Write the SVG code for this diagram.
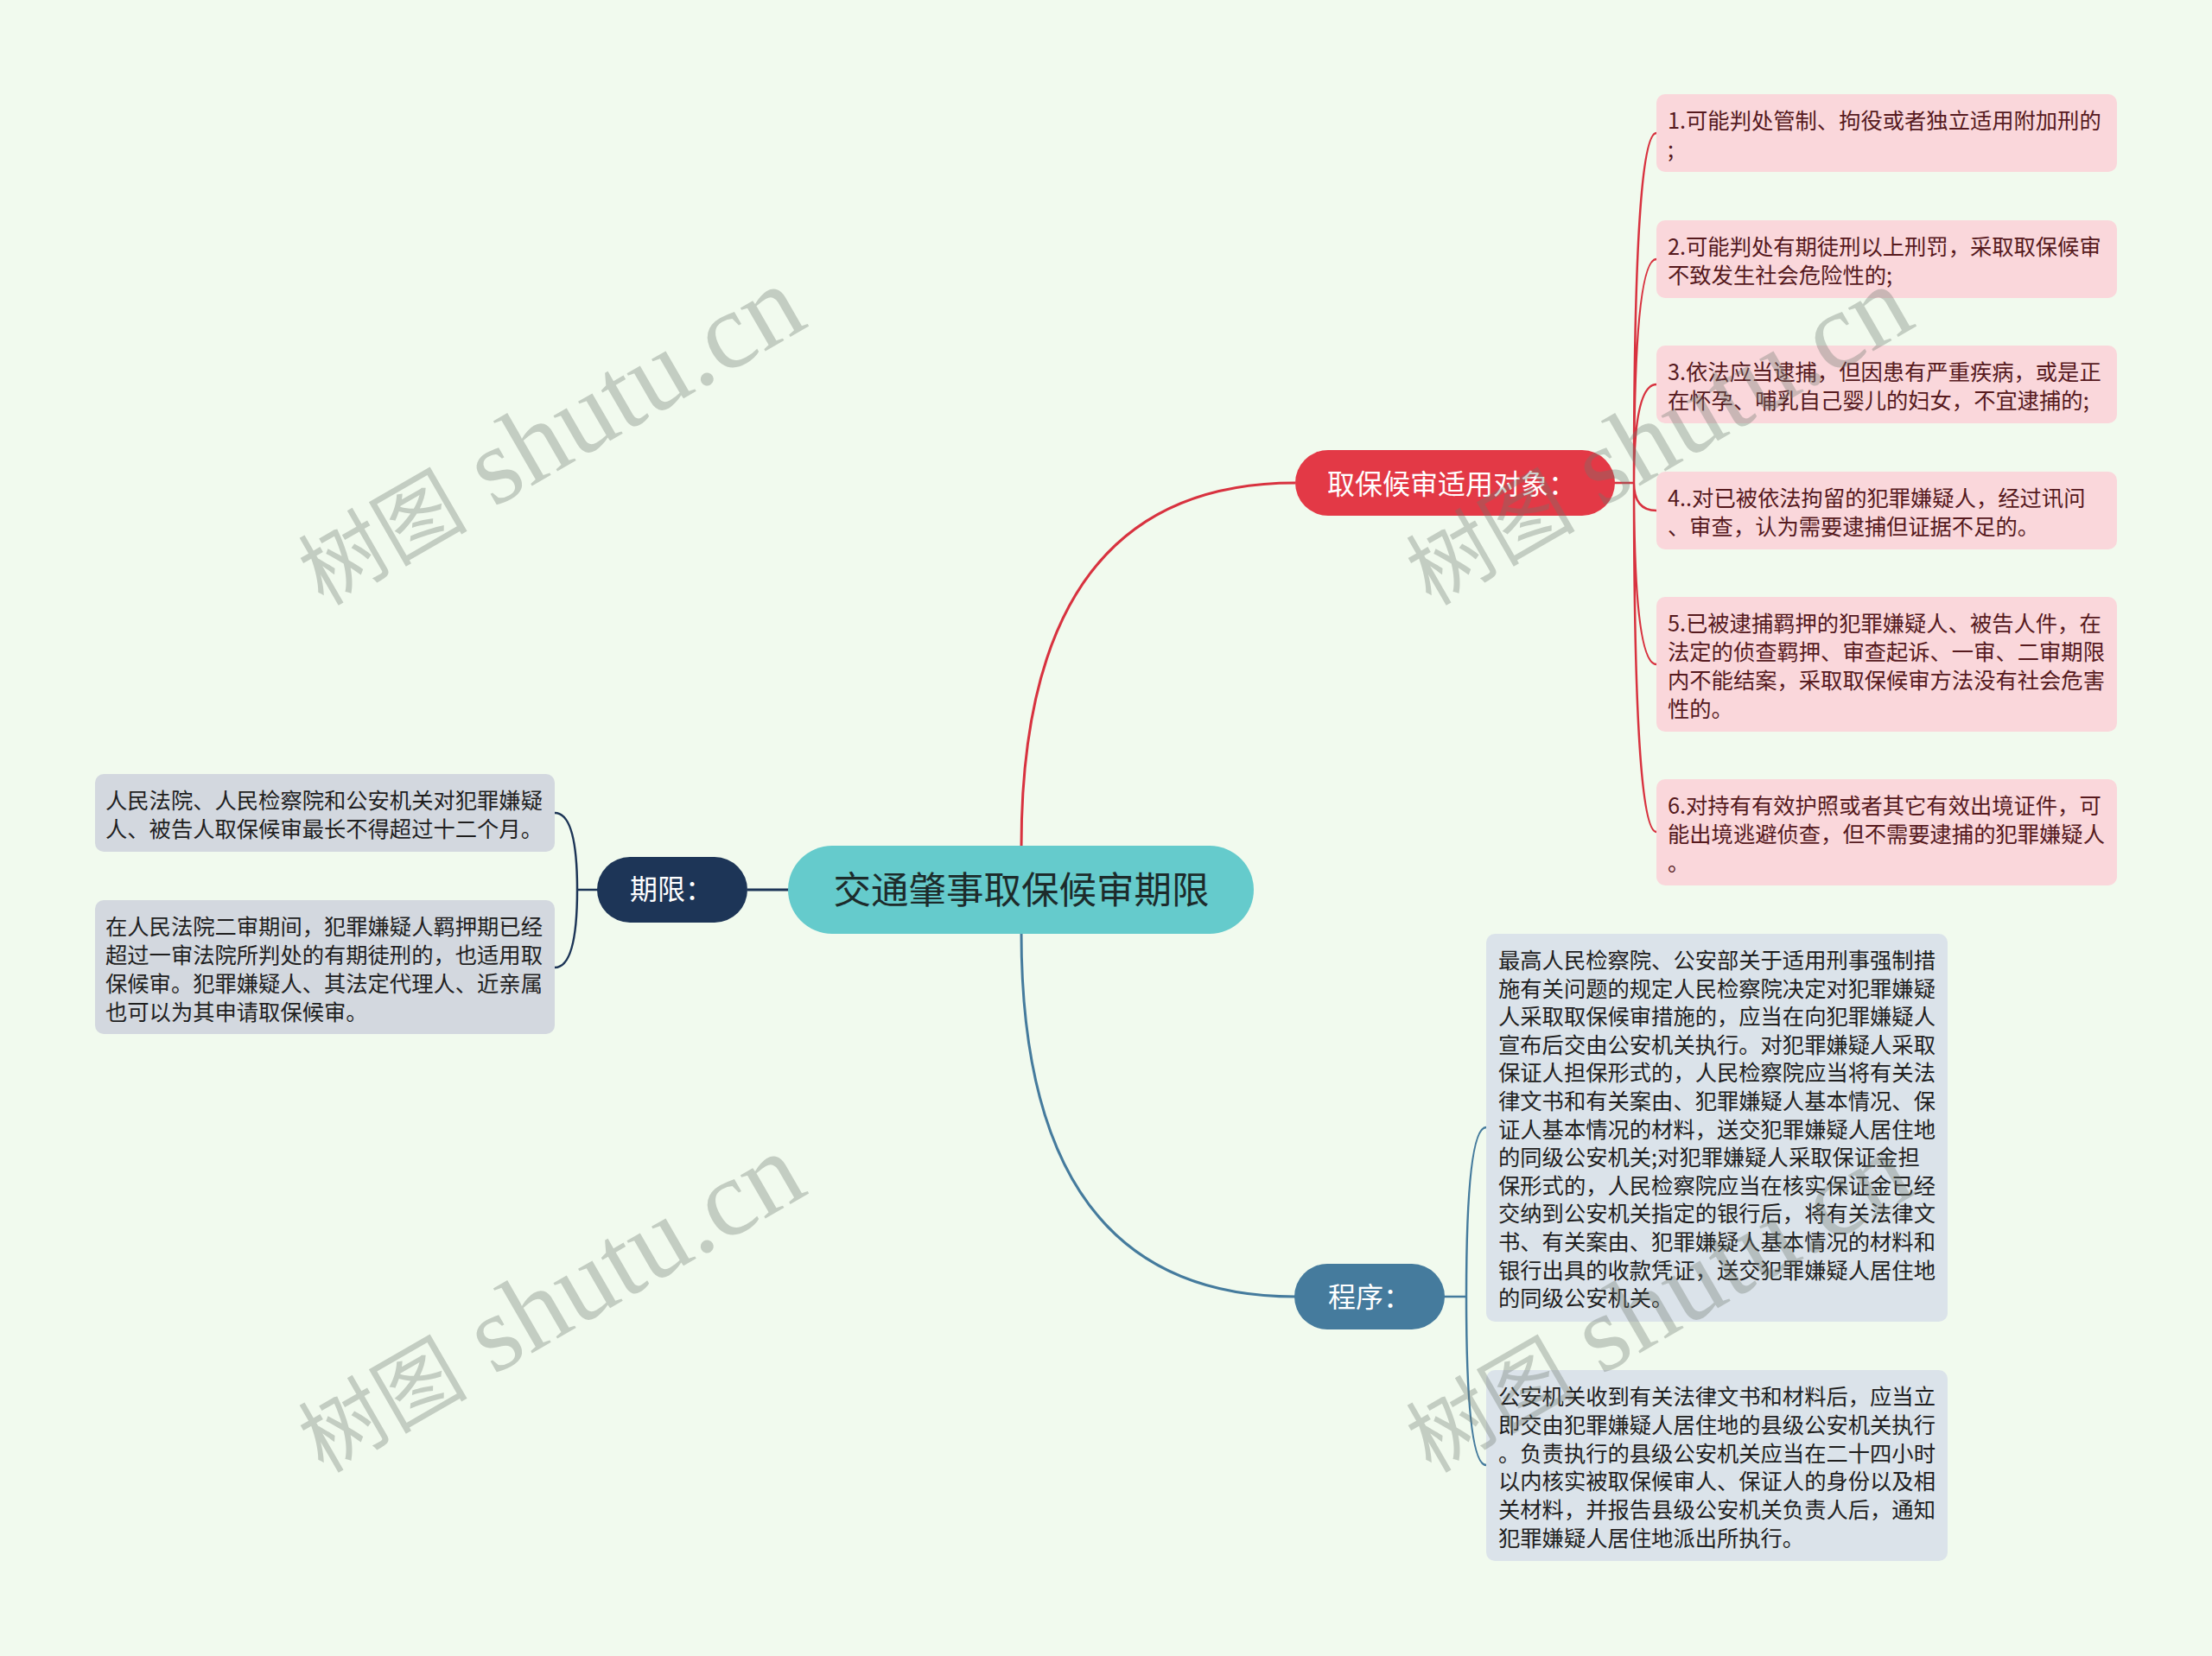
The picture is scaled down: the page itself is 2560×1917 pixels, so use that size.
<svg xmlns="http://www.w3.org/2000/svg" width="2560" height="1917" viewBox="0 0 2560 1917">
<style>
.t{font-family:"Noto Sans CJK SC","Noto Sans",sans-serif;}
.bt{font-size:25.3px;}
.pk{fill:#fad7db;}
.pkt{fill:#561a1e;}
.gy{fill:#d3d8df;}
.gyt{fill:#1f1f1f;}
.bl{fill:#dbe3ea;}
.blt{fill:#1f1f1f;}
.nt{font-size:32px;fill:#ffffff;}
.red{stroke:#d8323f;fill:none;}
.navy{stroke:#1d3557;fill:none;}
.blue{stroke:#457b9d;fill:none;}
.wm{fill:#6e786e;opacity:0.34;}
</style>
<rect x="0" y="0" width="2560" height="1917" fill="#f1faee"/>

<g id="connectors">
  <path class="red" stroke-width="3" d="M1182 980 Q1182 559 1499 559"/>
  <path class="blue" stroke-width="3" d="M1182 1080 Q1182 1501 1499 1501"/>
  <path class="navy" stroke-width="3" d="M865 1030 H913"/>
  <path class="red" stroke-width="2.5" d="M1868 559 H1891 M1891 559 Q1891 154 1917 154 M1891 559 Q1891 300 1917 300 M1891 559 Q1891 445 1917 445 M1891 559 Q1891 591 1917 591 M1891 559 Q1891 769 1917 769 M1891 559 Q1891 963 1917 963"/>
  <path class="navy" stroke-width="2.5" d="M692 1030 H668 M668 1030 Q668 941 642 941 M668 1030 Q668 1120 642 1120"/>
  <path class="blue" stroke-width="2.5" d="M1671 1501 H1697 M1697 1501 Q1697 1305 1720 1305 M1697 1501 Q1697 1696 1720 1696"/>
</g>

<g id="node-root">
  <rect x="912" y="979" width="539" height="102" rx="51" fill="#65cbcc"/>
  <text class="t" x="1182" y="1046" font-size="43.5" fill="#1d2b2b" text-anchor="middle">交通肇事取保候审期限</text>
</g>

<g id="node-objects">
  <rect x="1499" y="521" width="370" height="76" rx="38" fill="#e33946"/>
  <text class="t nt" x="1536" y="572" font-size="32.5">取保候审适用对象：</text>
</g>

<g id="node-limit">
  <rect x="691" y="992" width="174" height="76" rx="38" fill="#1d3557"/>
  <text class="t nt" x="729" y="1041">期限：</text>
</g>

<g id="node-procedure">
  <rect x="1498" y="1463" width="174" height="76" rx="38" fill="#457b9d"/>
  <text class="t nt" x="1537" y="1513">程序：</text>
</g>

<g id="obj-1">
  <rect class="pk" x="1917" y="109" width="533" height="90" rx="10"/>
  <text class="t bt pkt"><tspan x="1930" y="149">1.可能判处管制、拘役或者独立适用附加刑的</tspan><tspan x="1930" y="182">;</tspan></text>
</g>
<g id="obj-2">
  <rect class="pk" x="1917" y="255" width="533" height="90" rx="10"/>
  <text class="t bt pkt"><tspan x="1930" y="295">2.可能判处有期徒刑以上刑罚，采取取保候审</tspan><tspan x="1930" y="328">不致发生社会危险性的;</tspan></text>
</g>
<g id="obj-3">
  <rect class="pk" x="1917" y="400" width="533" height="90" rx="10"/>
  <text class="t bt pkt"><tspan x="1930" y="440">3.依法应当逮捕，但因患有严重疾病，或是正</tspan><tspan x="1930" y="473">在怀孕、哺乳自己婴儿的妇女，不宜逮捕的;</tspan></text>
</g>
<g id="obj-4">
  <rect class="pk" x="1917" y="546" width="533" height="90" rx="10"/>
  <text class="t bt pkt"><tspan x="1930" y="586">4..对已被依法拘留的犯罪嫌疑人，经过讯问</tspan><tspan x="1930" y="619">、审查，认为需要逮捕但证据不足的。</tspan></text>
</g>
<g id="obj-5">
  <rect class="pk" x="1917" y="691" width="533" height="156" rx="10"/>
  <text class="t bt pkt"><tspan x="1930" y="731">5.已被逮捕羁押的犯罪嫌疑人、被告人件，在</tspan><tspan x="1930" y="764">法定的侦查羁押、审查起诉、一审、二审期限</tspan><tspan x="1930" y="797">内不能结案，采取取保候审方法没有社会危害</tspan><tspan x="1930" y="830">性的。</tspan></text>
</g>
<g id="obj-6">
  <rect class="pk" x="1917" y="902" width="533" height="123" rx="10"/>
  <text class="t bt pkt"><tspan x="1930" y="942">6.对持有有效护照或者其它有效出境证件，可</tspan><tspan x="1930" y="975">能出境逃避侦查，但不需要逮捕的犯罪嫌疑人</tspan><tspan x="1930" y="1008">。</tspan></text>
</g>

<g id="limit-1">
  <rect class="gy" x="110" y="896" width="532" height="90" rx="10"/>
  <text class="t bt gyt"><tspan x="122" y="936">人民法院、人民检察院和公安机关对犯罪嫌疑</tspan><tspan x="122" y="969">人、被告人取保候审最长不得超过十二个月。</tspan></text>
</g>
<g id="limit-2">
  <rect class="gy" x="110" y="1042" width="532" height="155" rx="10"/>
  <text class="t bt gyt"><tspan x="122" y="1082">在人民法院二审期间，犯罪嫌疑人羁押期已经</tspan><tspan x="122" y="1115">超过一审法院所判处的有期徒刑的，也适用取</tspan><tspan x="122" y="1148">保候审。犯罪嫌疑人、其法定代理人、近亲属</tspan><tspan x="122" y="1181">也可以为其申请取保候审。</tspan></text>
</g>

<g id="proc-1">
  <rect class="bl" x="1720" y="1081" width="534" height="449" rx="10"/>
  <text class="t bt blt"><tspan x="1734" y="1121">最高人民检察院、公安部关于适用刑事强制措</tspan><tspan x="1734" y="1153.6">施有关问题的规定人民检察院决定对犯罪嫌疑</tspan><tspan x="1734" y="1186.2">人采取取保候审措施的，应当在向犯罪嫌疑人</tspan><tspan x="1734" y="1218.8">宣布后交由公安机关执行。对犯罪嫌疑人采取</tspan><tspan x="1734" y="1251.4">保证人担保形式的，人民检察院应当将有关法</tspan><tspan x="1734" y="1284">律文书和有关案由、犯罪嫌疑人基本情况、保</tspan><tspan x="1734" y="1316.6">证人基本情况的材料，送交犯罪嫌疑人居住地</tspan><tspan x="1734" y="1349.2">的同级公安机关;对犯罪嫌疑人采取保证金担</tspan><tspan x="1734" y="1381.8">保形式的，人民检察院应当在核实保证金已经</tspan><tspan x="1734" y="1414.4">交纳到公安机关指定的银行后，将有关法律文</tspan><tspan x="1734" y="1447">书、有关案由、犯罪嫌疑人基本情况的材料和</tspan><tspan x="1734" y="1479.6">银行出具的收款凭证，送交犯罪嫌疑人居住地</tspan><tspan x="1734" y="1512.2">的同级公安机关。</tspan></text>
</g>
<g id="proc-2">
  <rect class="bl" x="1720" y="1586" width="534" height="221" rx="10"/>
  <text class="t bt blt"><tspan x="1734" y="1626">公安机关收到有关法律文书和材料后，应当立</tspan><tspan x="1734" y="1658.8">即交由犯罪嫌疑人居住地的县级公安机关执行</tspan><tspan x="1734" y="1691.6">。负责执行的县级公安机关应当在二十四小时</tspan><tspan x="1734" y="1724.4">以内核实被取保候审人、保证人的身份以及相</tspan><tspan x="1734" y="1757.2">关材料，并报告县级公安机关负责人后，通知</tspan><tspan x="1734" y="1790">犯罪嫌疑人居住地派出所执行。</tspan></text>
</g>

<g id="watermark">
  <text class="wm" transform="translate(374 702) rotate(-30)" font-family="Liberation Serif, Noto Sans CJK SC, serif" font-size="126"><tspan font-family="Noto Sans CJK SC, sans-serif" font-size="98">树图</tspan> shutu.cn</text>
  <text class="wm" transform="translate(1656 702) rotate(-30)" font-family="Liberation Serif, Noto Sans CJK SC, serif" font-size="126"><tspan font-family="Noto Sans CJK SC, sans-serif" font-size="98">树图</tspan> shutu.cn</text>
  <text class="wm" transform="translate(374 1706) rotate(-30)" font-family="Liberation Serif, Noto Sans CJK SC, serif" font-size="126"><tspan font-family="Noto Sans CJK SC, sans-serif" font-size="98">树图</tspan> shutu.cn</text>
  <text class="wm" transform="translate(1656 1706) rotate(-30)" font-family="Liberation Serif, Noto Sans CJK SC, serif" font-size="126"><tspan font-family="Noto Sans CJK SC, sans-serif" font-size="98">树图</tspan> shutu.cn</text>
</g>
</svg>
